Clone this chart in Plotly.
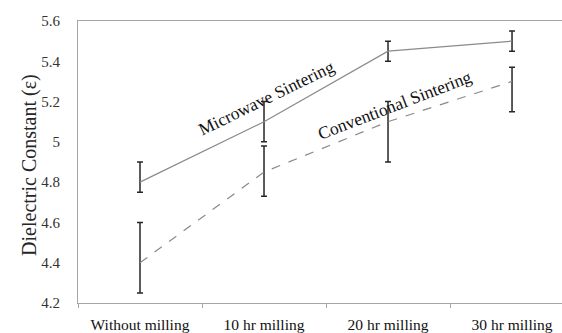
import plotly.graph_objects as go

categories = ["Without milling", "10 hr milling", "20 hr milling", "30 hr milling"]

microwave = [4.8, 5.1, 5.45, 5.5]
microwave_err_plus = [0.1, 0.1, 0.05, 0.05]
microwave_err_minus = [0.05, 0.1, 0.05, 0.05]

conventional = [4.4, 4.85, 5.1, 5.3]
conventional_err_plus = [0.2, 0.13, 0.1, 0.07]
conventional_err_minus = [0.15, 0.12, 0.2, 0.15]

y_ticks = [4.2, 4.4, 4.6, 4.8, 5.0, 5.2, 5.4, 5.6]

serif = "Times New Roman, Liberation Serif, serif"
err_color = "#262626"

fig = go.Figure()

fig.add_trace(go.Scatter(
    x=categories, y=microwave, mode="lines",
    line=dict(color="#8a8a8a", width=1.2),
    error_y=dict(type="data", symmetric=False,
                 array=microwave_err_plus, arrayminus=microwave_err_minus,
                 color=err_color, thickness=1.5, width=3),
    showlegend=False,
))

fig.add_trace(go.Scatter(
    x=categories, y=conventional, mode="lines",
    line=dict(color="#8a8a8a", width=1.2, dash="dash"),
    error_y=dict(type="data", symmetric=False,
                 array=conventional_err_plus, arrayminus=conventional_err_minus,
                 color=err_color, thickness=1.5, width=3),
    showlegend=False,
))

# Series labels written along their lines
fig.add_annotation(x=1.016, y=5.22, xref="x", yref="y",
                   xanchor="center", yanchor="middle",
                   text="Microwave Sintering", showarrow=False, textangle=-26,
                   font=dict(family=serif, size=17.5, color="#111111"))
fig.add_annotation(x=2.055, y=5.185, xref="x", yref="y",
                   xanchor="center", yanchor="middle",
                   text="Conventional Sintering", showarrow=False, textangle=-21,
                   font=dict(family=serif, size=17.5, color="#111111"))

# Y axis title
fig.add_annotation(x=-0.099, y=0.49, xref="paper", yref="paper",
                   xanchor="center", yanchor="middle",
                   text="Dielectric Constant (ε)", showarrow=False, textangle=-90,
                   font=dict(family=serif, size=20, color="#262626"))

fig.update_layout(
    width=562, height=333,
    margin=dict(l=78, r=0, t=21, b=30),
    plot_bgcolor="white", paper_bgcolor="white",
    font=dict(family=serif),
    xaxis=dict(
        type="category", range=[-0.5, 3.403], automargin=False,
        showline=True, linecolor="#a6a6a6", linewidth=1.2, mirror=True,
        ticks="outside", tickson="boundaries", ticklen=4, tickcolor="#a6a6a6",
        showgrid=False, zeroline=False,
        ticklabelstandoff=7,
        tickfont=dict(family=serif, size=15.5, color="#111111"),
    ),
    yaxis=dict(
        range=[4.2, 5.6], tickvals=y_ticks, automargin=False,
        showline=True, linecolor="#a6a6a6", linewidth=1.2,
        ticks="", showgrid=False, zeroline=False,
        ticklabelstandoff=14,
        tickfont=dict(family=serif, size=15, color="#333333"),
    ),
)

fig.write_html("out.html")
